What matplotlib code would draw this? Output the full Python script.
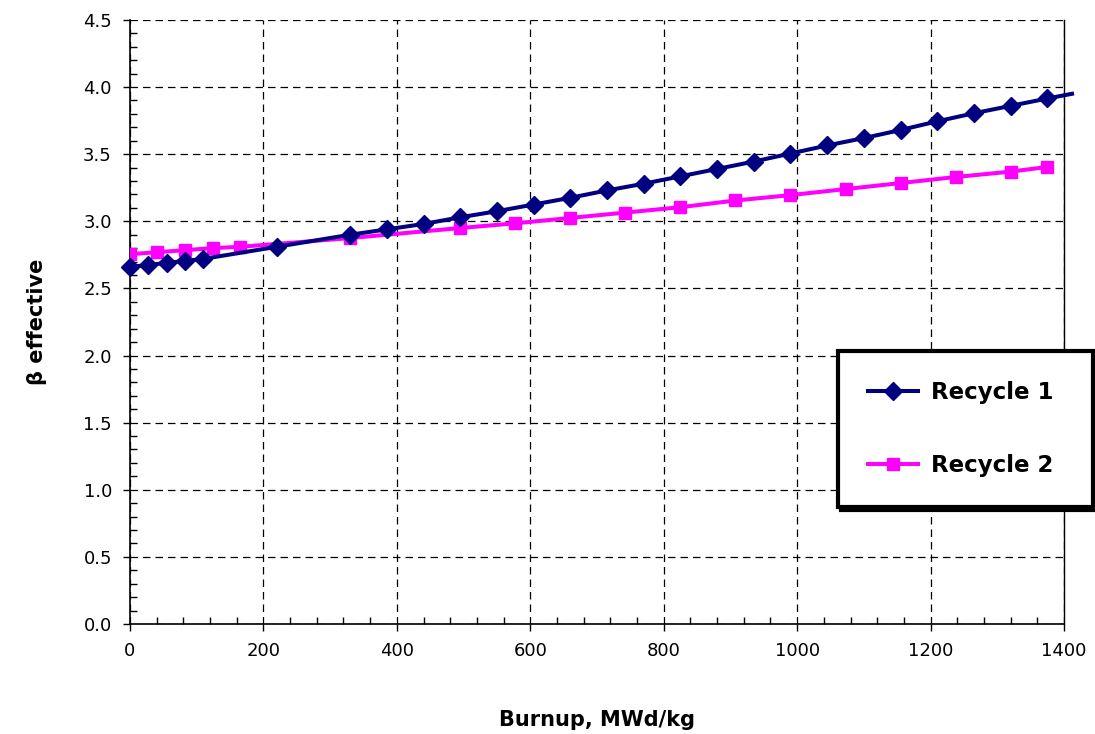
import numpy as np
import matplotlib
matplotlib.use("Agg")
import matplotlib.pyplot as plt
from matplotlib.ticker import MultipleLocator

# ------------------------------- DATA ---------------------------------------
burnup_r1 = [0, 27.5, 55, 82.5, 110, 220, 330, 385, 440, 495, 550, 605, 660,
             715, 770, 825, 880, 935, 990, 1045, 1100, 1155, 1210, 1265,
             1320, 1375, 1412]
beta_r1 = [2.66, 2.675, 2.69, 2.705, 2.72, 2.81, 2.90, 2.94, 2.98, 3.03,
           3.075, 3.125, 3.175, 3.23, 3.28, 3.335, 3.39, 3.445, 3.505, 3.565,
           3.62, 3.68, 3.745, 3.805, 3.86, 3.915, 3.95]

burnup_r2 = [0, 41.25, 82.5, 123.75, 165, 330, 495, 577.5, 660, 742.5, 825,
             907.5, 990, 1072.5, 1155, 1237.5, 1320, 1375]
beta_r2 = [2.755, 2.77, 2.785, 2.80, 2.81, 2.875, 2.95, 2.985, 3.025, 3.065,
           3.105, 3.155, 3.195, 3.24, 3.285, 3.33, 3.37, 3.405]

x_ticks = [0, 200, 400, 600, 800, 1000, 1200, 1400]
y_ticks = [0.0, 0.5, 1.0, 1.5, 2.0, 2.5, 3.0, 3.5, 4.0, 4.5]

# ------------------------------- PLOT ---------------------------------------
fig = plt.figure(figsize=(10.95, 7.34), dpi=100)
ax = fig.add_axes([0.1187, 0.1499, 0.9717 - 0.1187, 0.9728 - 0.1499])

ax.plot(burnup_r1, beta_r1, color='#000080', lw=2.9, marker='D', ms=9,
        markevery=list(range(len(burnup_r1) - 1)), clip_on=False, zorder=4,
        label='Recycle 1')
ax.plot(burnup_r2, beta_r2, color='#FF00FF', lw=2.9, marker='s', ms=8,
        zorder=3, label='Recycle 2')

ax.set_xlim(0, 1400); ax.set_ylim(0, 4.5)
ax.set_xticks(x_ticks); ax.set_yticks(y_ticks)
ax.set_yticklabels([f'{v:.1f}' for v in y_ticks])
ax.xaxis.set_minor_locator(MultipleLocator(40))
ax.yaxis.set_minor_locator(MultipleLocator(0.1))
ax.tick_params(which='major', direction='out', length=5, width=1,
               labelsize=13, pad=8)
ax.tick_params(which='minor', direction='in', length=5, width=1)
ax.grid(True, which='major', color='black', ls=(0, (6, 4)), lw=0.9)

ax.spines['top'].set_visible(False)
ax.spines['right'].set_linewidth(1.0)
ax.spines['left'].set_linewidth(1.2); ax.spines['bottom'].set_linewidth(1.2)

ax.set_xlabel('Burnup, MWd/kg', fontsize=15, fontweight='bold', labelpad=36)
ax.set_ylabel('β effective', fontsize=15, fontweight='bold', labelpad=26)

# legend box spans roughly x 838..1093 px, top at 352 px
leg = ax.legend(loc='upper left', bbox_to_anchor=(0.758, 0.452, 0.273, 0.0),
                mode='expand', prop=dict(weight='bold', size=16.5),
                frameon=True, fancybox=False,
                shadow=dict(color='black', alpha=1), borderpad=1.3,
                labelspacing=2.2, handlelength=2.2, handletextpad=0.55,
                borderaxespad=0)
leg.get_frame().set_edgecolor('black'); leg.get_frame().set_linewidth(3)
leg.set_zorder(10)

plt.savefig('out.png', dpi=100)
